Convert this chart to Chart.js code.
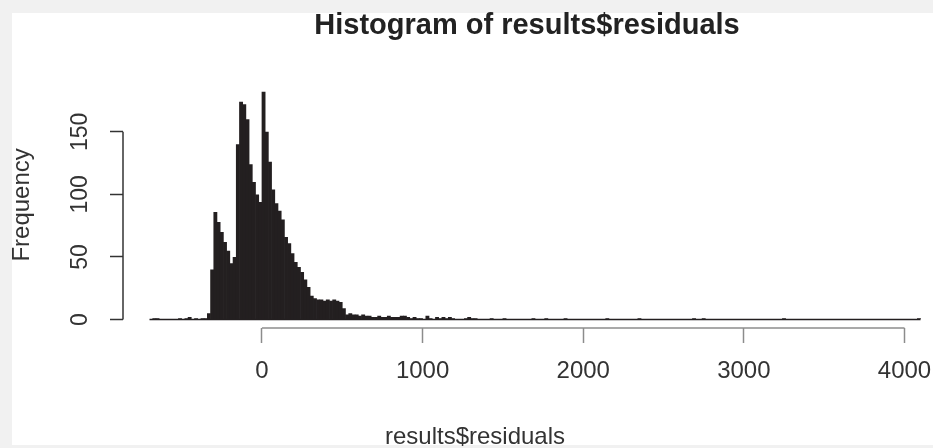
<!DOCTYPE html>
<html>
<head>
<meta charset="utf-8">
<script src="https://cdn.jsdelivr.net/npm/chart.js@4.4.1/dist/chart.umd.min.js"></script>
<style>
  html, body { margin: 0; padding: 0; background: #fff; }
  #wrap { width: 933px; height: 448px; }
</style>
</head>
<body>
<div id="wrap"><canvas id="hist" width="933" height="448"></canvas></div>
<script>
// bin midpoints (bins are 20 wide) and counts; empty bins left out
const binMids = [
  -670, -650, -510, -470, -450, -410, -370, -350, -330, -310,
  -290, -270, -250, -230, -210, -190, -170, -150, -130, -110,
  -90, -70, -50, -30, -10, 10, 30, 50, 70, 90,
  110, 130, 150, 170, 190, 210, 230, 250, 270, 290,
  310, 330, 350, 370, 390, 410, 430, 450, 470, 490,
  510, 530, 550, 570, 590, 610, 630, 650, 670, 690,
  710, 730, 750, 770, 790, 810, 830, 850, 870, 890,
  910, 930, 950, 970, 990, 1030, 1050, 1090, 1110, 1130,
  1150, 1170, 1190, 1270, 1290, 1310, 1330, 1430, 1510, 1690,
  1770, 1890, 2150, 2350, 2690, 2750, 3250, 4090
];
const counts = [
  1, 1, 1, 1, 2, 1, 1, 1, 5, 40,
  86, 78, 70, 62, 55, 45, 50, 140, 174, 172,
  160, 124, 110, 100, 94, 182, 150, 126, 104, 93,
  87, 80, 66, 61, 53, 46, 42, 38, 32, 26,
  19, 17, 16, 16, 15, 16, 15, 16, 15, 14,
  9, 4, 5, 4, 4, 3, 4, 3, 3, 2,
  2, 3, 2, 2, 3, 2, 2, 2, 3, 3,
  2, 1, 2, 1, 1, 3, 1, 2, 1, 2,
  1, 2, 1, 1, 2, 1, 1, 1, 1, 1,
  1, 1, 1, 1, 1, 1, 1, 1
];
// outer break points of the histogram (zero-height bins still draw a base line)
const histRange = [-700, 4100];
const xTicks = [0, 1000, 2000, 3000, 4000];
const yTicks = [0, 50, 100, 150];

const FONT = '"Liberation Sans", Arial, sans-serif';
const INK = '#231f20';

// scanned page edge: light grey strip along top/left
const pageBorder = {
    id: 'pageBorder',
    beforeDraw(chart) {
        const { ctx, width, height } = chart;
        ctx.save();
        ctx.fillStyle = '#f1f1f1';
        ctx.fillRect(0, 0, width, height);
        ctx.fillStyle = '#ffffff';
        ctx.fillRect(12, 13, width - 12, height - 16);
        ctx.restore();
    },
};

// R style axes: line only runs from first to last tick
const rAxes = {
    id: 'rAxes',
    afterDraw(chart) {
        const { ctx, chartArea, scales: { x, y } } = chart;
        ctx.save();
        ctx.lineWidth = 1.5;
        ctx.strokeStyle = '#8c8c8c';
        ctx.beginPath();
        ctx.moveTo(x.getPixelForValue(xTicks[0]), chartArea.bottom);
        ctx.lineTo(x.getPixelForValue(xTicks[xTicks.length - 1]), chartArea.bottom);
        ctx.stroke();

        ctx.strokeStyle = '#333';
        ctx.beginPath();
        ctx.moveTo(chartArea.left, y.getPixelForValue(yTicks[0]));
        ctx.lineTo(chartArea.left, y.getPixelForValue(yTicks[yTicks.length - 1]));
        ctx.stroke();

        // xlab sits left of the plot centre in the source image
        ctx.fillStyle = '#333';
        ctx.font = '24px ' + FONT;
        ctx.textAlign = 'center';
        ctx.textBaseline = 'alphabetic';
        ctx.fillText('results$residuals', 475, 444);
        ctx.restore();
    },
};

new Chart(document.getElementById('hist').getContext('2d'), {
    type: 'bar',
    data: {
        datasets: [
            {
                type: 'line',
                data: histRange.map(v => ({ x: v, y: 0 })),
                borderColor: INK,
                borderWidth: 1.5,
                pointRadius: 0,
                order: 2,
            },
            {
                type: 'bar',
                data: binMids.map((m, i) => ({ x: m, y: counts[i] })),
                backgroundColor: INK,
                borderWidth: 0,
                barPercentage: 1.2,
                categoryPercentage: 1,
                order: 1,
            },
        ],
    },
    options: {
        responsive: false,
        animation: false,
        events: [],
        layout: { padding: { left: 0, right: 2, top: 0, bottom: 0 } },
        plugins: {
            legend: { display: false },
            tooltip: { enabled: false },
            title: {
                display: true,
                fullSize: false,
                text: 'Histogram of results$residuals',
                color: '#222',
                font: { family: FONT, size: 29, weight: 'bold' },
                padding: { top: 9, bottom: 38 },
            },
        },
        scales: {
            x: {
                type: 'linear',
                min: -865,
                max: 4165,
                offset: false,
                afterBuildTicks: s => { s.ticks = xTicks.map(v => ({ value: v })); },
                afterFit: s => {
                    s.height = 120;
                    s.paddingLeft = 0;
                    s.paddingRight = 0;
                },
                border: { display: false },
                grid: {
                    offset: false,
                    drawOnChartArea: false,
                    drawTicks: true,
                    tickLength: 15,
                    tickColor: '#8c8c8c',
                    tickWidth: 1.5,
                },
                ticks: {
                    color: '#333',
                    font: { family: FONT, size: 24 },
                    padding: 14,
                    maxRotation: 0,
                    autoSkip: false,
                    callback: v => String(v),
                },
            },
            y: {
                min: -6.8,
                max: 190,
                afterBuildTicks: s => { s.ticks = yTicks.map(v => ({ value: v })); },
                afterFit: s => {
                    s.width = 123;
                    s.paddingTop = 0;
                    s.paddingBottom = 0;
                },
                border: { display: false },
                grid: {
                    drawOnChartArea: false,
                    drawTicks: true,
                    tickLength: 13,
                    tickColor: '#333',
                    tickWidth: 1.5,
                },
                ticks: {
                    color: '#333',
                    font: { family: FONT, size: 23 },
                    minRotation: 90,
                    maxRotation: 90,
                    crossAlign: 'center',
                    padding: 10,
                    callback: v => String(v),
                },
                title: {
                    display: true,
                    text: 'Frequency',
                    color: '#333',
                    font: { family: FONT, size: 24 },
                    padding: { top: 8, bottom: 0 },
                },
            },
        },
    },
    plugins: [pageBorder, rAxes],
});
</script>
</body>
</html>
